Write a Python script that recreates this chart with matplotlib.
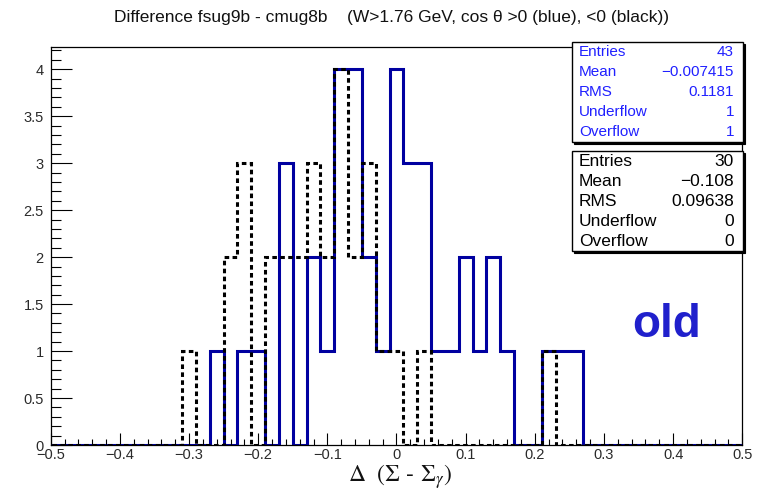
import numpy as np
import matplotlib
matplotlib.use('Agg')
import matplotlib.pyplot as plt
from matplotlib.patches import Rectangle
from matplotlib.ticker import MultipleLocator

plt.rcParams['font.family'] = ['Liberation Sans', 'DejaVu Sans']
plt.rcParams['mathtext.fontset'] = 'stix'

# histogram binning: 0.02 wide bins, edges on odd hundredths
bin_width = 0.02
x_lo, x_hi = -0.51, 0.51

# cos theta > 0 (blue), bins starting at -0.27
blue_start = -0.27
blue_counts = [1, 0, 1, 1, 0, 3, 0, 2, 1, 4, 4, 2, 1, 4, 3, 3, 1, 1, 2, 1,
               2, 1, 0, 0, 1, 1, 1]
# cos theta < 0 (black), bins starting at -0.31
black_start = -0.31
black_counts = [1, 0, 0, 2, 3, 0, 2, 2, 2, 3, 2, 4, 2, 3, 1, 1, 0, 1, 0, 0,
                0, 0, 0, 0, 0, 0, 1]

blue_stats = [('Entries', '43'), ('Mean', '\u22120.007415'), ('RMS', '0.1181'),
              ('Underflow', '1'), ('Overflow', '1')]
black_stats = [('Entries', '30'), ('Mean', '\u22120.108'), ('RMS', '0.09638'),
               ('Underflow', '0'), ('Overflow', '0')]


def full_hist(start, counts):
    # pad the filled bins with empty bins over the whole range
    n = int(round((x_hi - x_lo) / bin_width))
    edges = np.round(x_lo + bin_width * np.arange(n + 1), 3)
    vals = np.zeros(n)
    i0 = int(round((start - x_lo) / bin_width))
    vals[i0:i0 + len(counts)] = counts
    return vals, edges


fig = plt.figure(figsize=(7.65, 4.9), dpi=100)
ax = fig.add_axes([0.0663, 0.0918, 0.9040, 0.8129])

v, e = full_hist(blue_start, blue_counts)
ax.stairs(v, e, color='#0000a0', lw=2.2)
v, e = full_hist(black_start, black_counts)
ax.stairs(v, e, color='black', lw=2.2, linestyle=(0, (1.5, 1.1)))

ax.set_xlim(-0.5, 0.5)
ax.set_ylim(0, 4.24)
ax.xaxis.set_major_locator(MultipleLocator(0.1))
ax.xaxis.set_minor_locator(MultipleLocator(0.02))
ax.yaxis.set_major_locator(MultipleLocator(0.5))
ax.yaxis.set_minor_locator(MultipleLocator(0.1))
ax.tick_params(axis='x', which='major', direction='in', length=8.6, width=0.8,
               labelsize=10.5, pad=2, labelcolor='#2a2a2a')
ax.tick_params(axis='x', which='minor', direction='in', length=4.3, width=0.8)
ax.tick_params(axis='y', which='major', direction='in', length=15, width=0.8,
               labelsize=10.5, pad=5, labelcolor='#2a2a2a')
ax.tick_params(axis='y', which='minor', direction='in', length=7.5, width=0.8)
ax.xaxis.set_major_formatter(plt.FuncFormatter(lambda x, p: ('%g' % round(x, 2)).replace('-', '\u2212')))
ax.yaxis.set_major_formatter(plt.FuncFormatter(lambda y, p: '%g' % y))
for s in ax.spines.values():
    s.set_linewidth(0.9)

fig.text(0.512, 0.965, 'Difference fsug9b - cmug8b    (W>1.76 GeV, cos \u03b8 >0 (blue), <0 (black))',
         ha='center', va='center', fontsize=12.5, color='#111111')
fig.text(0.523, 0.027, r'$\Delta\ \ (\Sigma$ - $\Sigma_{\gamma})$', ha='center', va='center',
         fontsize=17, color='#111111')
fig.text(0.871, 0.313, 'old', ha='center', va='baseline', fontsize=33,
         fontweight='bold', color='#2020cc')


def stat_box(y_top, rows, color, fs):
    W, H = 765.0, 490.0
    x0, x1 = 572.0, 742.7
    h = 100.0
    # drop shadow then the box itself
    fig.patches.append(Rectangle(((x0 + 2) / W, 1 - (y_top + h + 2) / H), (x1 - x0) / W, h / H,
                                 transform=fig.transFigure, facecolor='black', edgecolor='black', lw=0.8))
    fig.patches.append(Rectangle((x0 / W, 1 - (y_top + h) / H), (x1 - x0) / W, h / H,
                                 transform=fig.transFigure, facecolor='white', edgecolor='black', lw=1.0))
    for i, (name, val) in enumerate(rows):
        yc = 1 - (y_top + 10 + 20 * i) / H
        fig.text(579 / W, yc, name, ha='left', va='center', fontsize=fs, color=color)
        fig.text(734 / W, yc, val, ha='right', va='center', fontsize=fs, color=color)


stat_box(42.3, blue_stats, '#2020ff', 11)
stat_box(151, black_stats, 'black', 12.5)

fig.savefig('out.png', dpi=100)
